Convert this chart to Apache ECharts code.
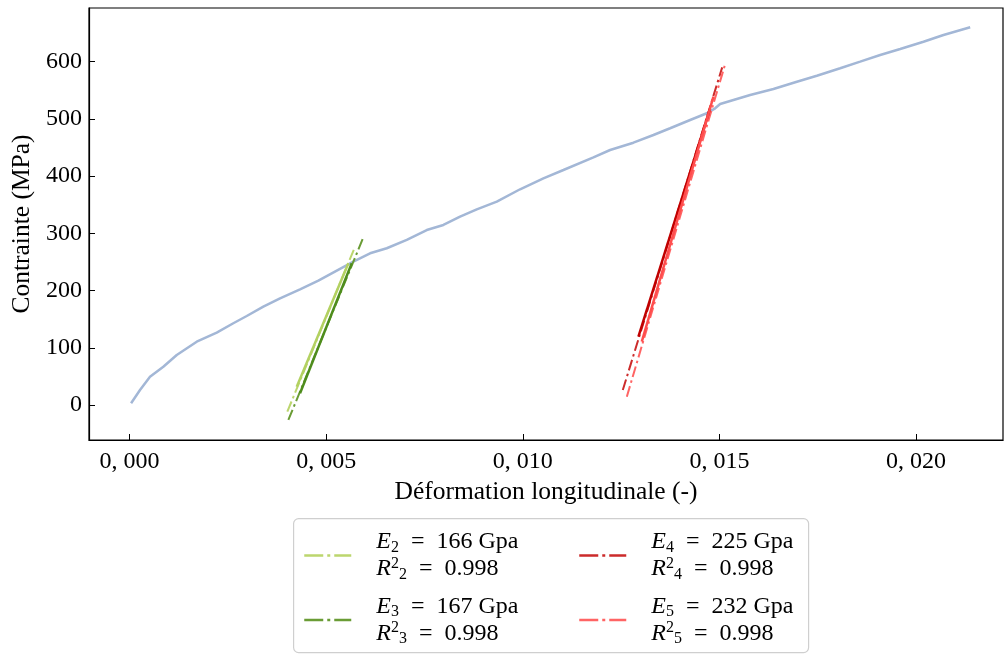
<!DOCTYPE html>
<html>
<head>
<meta charset="utf-8">
<script src="https://cdn.jsdelivr.net/npm/echarts@6/dist/echarts.min.js"></script>
<style>html,body{margin:0;padding:0;background:#fff}#c{width:1005px;height:655px}</style>
</head>
<body>
<div id="c"></div>
<script>
// Main stress-strain curve
const strain = [0.00004,0.000267,0.000521,0.000860,0.001201,0.001709,0.002218,0.002640,0.002981,0.003403,0.003828,0.004336,0.004802,0.005692,0.006117,0.006541,0.007050,0.007558,0.007981,0.008405,0.008830,0.009339,0.009931,0.010524,0.011033,0.011796,0.012220,0.012813,0.013322,0.013746,0.014255,0.014680,0.014891,0.015018,0.015356,0.015781,0.016373,0.016969,0.017477,0.018070,0.018578,0.019087,0.019596,0.020188,0.020697,0.021376];
const stress = [3.0,26.2,49.4,66.9,87.4,110.6,126.4,142.8,155.5,171.8,186.5,202.2,217.2,250.4,265.1,273.9,288.4,305.8,314.6,329.1,342.0,355.3,377.0,396.2,410.7,432.9,445.6,458.4,471.9,483.6,498.1,509.8,518.5,526.0,533.0,541.8,552.3,565.0,575.5,588.4,600.0,611.7,622.2,634.9,646.6,660.1];

// Fitting ranges (data segments)
const seg2Strain = [0.004252,0.005565]; const seg2Stress = [32.0,247.6];
const seg3Strain = [0.004336,0.005651]; const seg3Stress = [20.4,247.6];
const seg4Strain = [0.012940,0.014764]; const seg4Stress = [119.4,518.5];
const seg5Strain = [0.013026,0.014848]; const seg5Stress = [110.6,538.8];

// Fitted lines (dash-dot)
const fit2Strain = [0.004013,0.005735]; const fit2Stress = [-11.7,276.7];
const fit3Strain = [0.004039,0.005946]; const fit3Stress = [-26.2,293.1];
const fit4Strain = [0.012543,0.015070]; const fit4Stress = [26.2,590.0];
const fit5Strain = [0.012645,0.015134]; const fit5Stress = [14.5,593.0];

const moduli = [166,167,225,232];
const r2 = ['0.998','0.998','0.998','0.998'];
const idx = [2,3,4,5];
const xTicks = [0,0.005,0.010,0.015,0.020];
const yTicks = [0,100,200,300,400,500,600];

const FONT = 'Liberation Serif';
const pairs = (a,b) => a.map((v,i)=>[v,b[i]]);
const names = idx.map(i=>'E'+i);
const fitColors = ['#bcd66e','#6a9c35','#cc2b2b','#ff6464'];
const segColors = ['#b3d161','#4e8c1c','#c00000','#ff4d4d'];
const fits = [[fit2Strain,fit2Stress],[fit3Strain,fit3Stress],[fit4Strain,fit4Stress],[fit5Strain,fit5Stress]];
const segs = [[seg2Strain,seg2Stress],[seg3Strain,seg3Stress],[seg4Strain,seg4Stress],[seg5Strain,seg5Stress]];
const DASH = [11,3.5,2.5,3.5];

const series = [{
  type:'line', data: pairs(strain,stress), symbol:'none', silent:true,
  lineStyle:{color:'#a3b7d6', width:2.5}, z:1
}];
segs.forEach((s,k)=>series.push({
  type:'line', data: pairs(s[0],s[1]), symbol:'none', silent:true,
  lineStyle:{color:segColors[k], width:2.5}, z:3
}));
fits.forEach((f,k)=>series.push({
  name: names[k], type:'line', data: pairs(f[0],f[1]), symbol:'none', silent:true,
  itemStyle:{color:fitColors[k]},
  lineStyle:{color:fitColors[k], width:2, type:DASH}, z:2
}));

const EQ = '\u2002=\u2002';
const labelFor = (name)=>{
  const k = names.indexOf(name); const i = idx[k];
  return '{it|E}{sub|'+i+'}{n|'+EQ+moduli[k]+' Gpa}\n{it|R}{sup|2}{sub|'+i+'}{n|'+EQ+r2[k]+'}';
};
const rich = {
  n:{fontFamily:FONT, fontSize:24, lineHeight:27, color:'#000'},
  it:{fontFamily:FONT, fontSize:24, lineHeight:27, fontStyle:'italic', color:'#000'},
  sub:{fontFamily:FONT, fontSize:16, lineHeight:15, verticalAlign:'bottom', color:'#000'},
  sup:{fontFamily:FONT, fontSize:16, lineHeight:15, verticalAlign:'top', color:'#000'}
};
const legendBase = {
  orient:'vertical', itemWidth:47, itemHeight:14, itemGap:12, padding:0,
  selectedMode:false, formatter:labelFor,
  itemStyle:{opacity:0},
  lineStyle:{width:2.5, type:[19,4,3,4], opacity:1},
  textStyle:{rich:rich, padding:[0,0,0,20]}
};

const chart = echarts.init(document.getElementById('c'), null, {renderer:'canvas'});
chart.setOption({
  animation:false,
  backgroundColor:'#fff',
  grid:{left:89, right:2, top:8, bottom:215, show:true, borderColor:'#000', borderWidth:1.2},
  xAxis:{
    type:'value', min:-0.00103, max:0.02221,
    name:'Déformation longitudinale (-)', nameLocation:'middle', nameGap:36,
    nameTextStyle:{fontFamily:FONT, fontSize:25.5, color:'#000'},
    axisLine:{show:true, onZero:false, lineStyle:{color:'#000', width:1.2}},
    axisTick:{show:true, inside:true, length:6, lineStyle:{color:'#000'}, customValues:xTicks},
    axisLabel:{fontFamily:FONT, fontSize:24, color:'#000', margin:10, customValues:xTicks,
      formatter:v=>v.toFixed(3).replace('.',', ')},
    splitLine:{show:false}
  },
  yAxis:{
    type:'value', min:-61.2, max:693.8,
    name:'Contrainte (MPa)', nameLocation:'middle', nameGap:47, nameRotate:90,
    nameTextStyle:{fontFamily:FONT, fontSize:25.5, color:'#000'},
    axisLine:{show:true, onZero:false, lineStyle:{color:'#000', width:1.2}},
    axisTick:{show:true, inside:true, length:6, lineStyle:{color:'#000'}, customValues:yTicks},
    axisLabel:{fontFamily:FONT, fontSize:24, color:'#000', margin:7, customValues:yTicks},
    splitLine:{show:false}
  },
  graphic:[{type:'rect', left:293, top:518, z:-1, shape:{width:515, height:134, r:5},
    style:{fill:'#fff', stroke:'#cfcfcf', lineWidth:1.2}, silent:true}],
  legend:[
    Object.assign({}, legendBase, {left:303, top:530, data:[names[0],names[1]]}),
    Object.assign({}, legendBase, {left:578, top:530, data:[names[2],names[3]]})
  ],
  series:series
});
</script>
</body>
</html>
